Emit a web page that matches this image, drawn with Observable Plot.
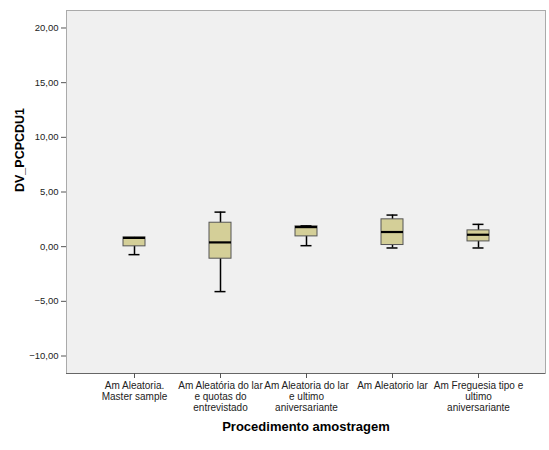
<!DOCTYPE html>
<html><head><meta charset="utf-8">
<script src="https://cdn.jsdelivr.net/npm/d3@7"></script>
<script src="https://cdn.jsdelivr.net/npm/@observablehq/plot@0.6"></script>
<style>body{margin:0;background:#fff;font-family:"Liberation Sans",Arial,sans-serif}</style>
</head><body><div id="chart"></div>
<script>
const categories = ["Am Aleatoria. Master sample","Am Aleatória do lar e quotas do entrevistado","Am Aleatoria do lar e ultimo aniversariante","Am Aleatorio lar","Am Freguesia tipo e ultimo aniversariante"];
const tickLabels = ["Am Aleatoria.\nMaster sample","Am Aleatória do lar\ne quotas do\nentrevistado","Am Aleatoria do lar\ne ultimo\naniversariante","Am Aleatorio lar","Am Freguesia tipo e\nultimo\naniversariante"];
const lowerWhisker = [-0.73, -4.11, 0.09, -0.12, -0.12];
const q1 = [0.03, -1.10, 0.94, 0.15, 0.48];
const median = [0.80, 0.39, 1.79, 1.34, 1.09];
const q3 = [0.85, 2.19, 1.86, 2.50, 1.49];
const upperWhisker = [0.85, 3.16, 1.90, 2.89, 2.04];
const yTicks = [-10, -5, 0, 5, 10, 15, 20];

const data = categories.map((c, i) => ({cat: c, lo: lowerWhisker[i], q1: q1[i], med: median[i], q3: q3[i], hi: upperWhisker[i]}));
const labelOf = new Map(categories.map((c, i) => [c, tickLabels[i]]));
const fmt = v => d3.format(".2f")(v).replace(".", ",");

const chart = Plot.plot({
  width: 549, height: 450,
  marginLeft: 66, marginRight: 4, marginTop: 10, marginBottom: 77,
  style: {fontFamily: "'Liberation Sans', Arial, sans-serif", fontSize: "9px", color: "#222", background: "#fff"},
  x: {type: "band", domain: categories, paddingInner: 0.745, paddingOuter: 0.6475, label: null},
  y: {domain: [-11.6, 21.6], label: null},
  marks: [
    Plot.frame({fill: "#f0f0f0", stroke: "#aaa"}),
    Plot.ruleX([0], {frameAnchor: "left", stroke: "#666"}),
    Plot.ruleY([-11.6], {stroke: "#666"}),
    Plot.axisY(yTicks, {tickSize: 5, tickPadding: 3, tickFormat: fmt, stroke: "#555", fontSize: 9.5}),
    Plot.axisX({tickSize: 5, tickPadding: 3, tickFormat: d => labelOf.get(d), stroke: "#555", fontSize: 10, lineHeight: 1.1}),
    Plot.ruleX(data, {x: "cat", y1: "lo", y2: "hi", stroke: "#000", strokeWidth: 1.5}),
    Plot.rectY(data, {x: "cat", y1: "q1", y2: "q3", fill: "#d4cf98", stroke: "#555", strokeWidth: 1}),
    Plot.tickY(data, {x: "cat", y: "med", stroke: "#000", strokeWidth: 2.2}),
    Plot.tickY(data, {x: "cat", y: "lo", stroke: "#000", strokeWidth: 1.5, insetLeft: 5.5, insetRight: 5.5}),
    Plot.tickY(data.filter(d => d.hi > d.q3), {x: "cat", y: "hi", stroke: "#000", strokeWidth: 1.5, insetLeft: 5.5, insetRight: 5.5}),
    Plot.text(["DV_PCPCDU1"], {frameAnchor: "left", dx: -47, rotate: -90, fontWeight: "bold", fontSize: 12.5, fill: "#000"}),
    Plot.text(["Procedimento amostragem"], {frameAnchor: "bottom", dy: 57, fontWeight: "bold", fontSize: 13, fill: "#000"})
  ]
});
document.getElementById("chart").appendChild(chart);
</script></body></html>
